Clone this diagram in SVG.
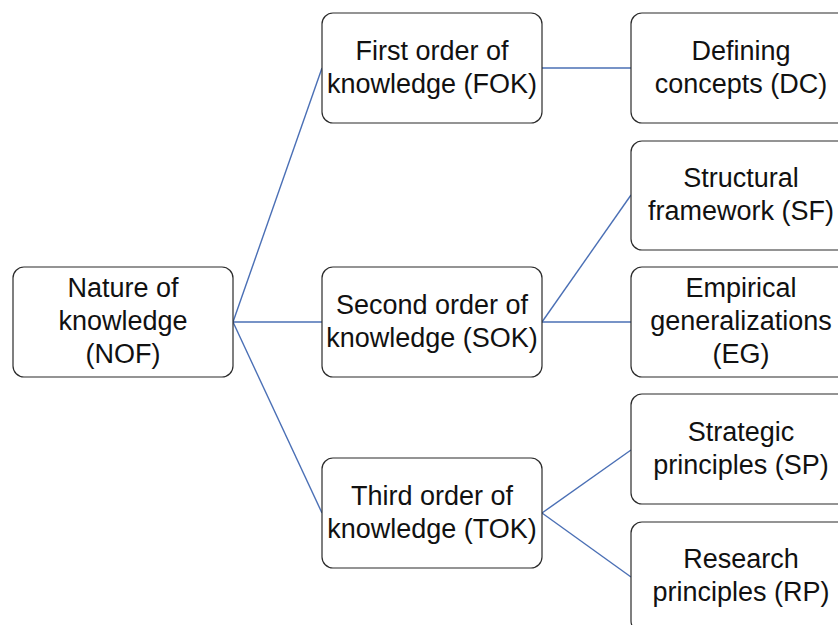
<svg xmlns="http://www.w3.org/2000/svg" width="838" height="625" viewBox="0 0 838 625">
<style>
.box{fill:#fff;stroke:#2b2b2b;stroke-width:1.2}
.lbl{font-family:"Liberation Sans",Arial,sans-serif;font-size:27px;fill:#111;text-anchor:middle}
.con{stroke:#4a6fb5;stroke-width:1.4;fill:none}
</style>
<rect width="838" height="625" fill="#fff"/>
<g id="connectors">
<line class="con" x1="233" y1="322" x2="322" y2="68"/>
<line class="con" x1="233" y1="322" x2="322" y2="322"/>
<line class="con" x1="233" y1="322" x2="322" y2="513"/>
<line class="con" x1="542" y1="68" x2="631" y2="68"/>
<line class="con" x1="542" y1="322" x2="631" y2="195"/>
<line class="con" x1="542" y1="322" x2="631" y2="322"/>
<line class="con" x1="542" y1="513" x2="631" y2="450"/>
<line class="con" x1="542" y1="513" x2="631" y2="577"/>
</g>
<g id="NOF">
<rect class="box" x="13" y="267" width="220" height="110" rx="11"/>
<text class="lbl" x="123" y="297">Nature of</text>
<text class="lbl" x="123" y="330">knowledge</text>
<text class="lbl" x="123" y="363">(NOF)</text>
</g>
<g id="FOK">
<rect class="box" x="322" y="13" width="220" height="110" rx="11"/>
<text class="lbl" x="432" y="60">First order of</text>
<text class="lbl" x="432" y="93">knowledge (FOK)</text>
</g>
<g id="SOK">
<rect class="box" x="322" y="267" width="220" height="110" rx="11"/>
<text class="lbl" x="432" y="314">Second order of</text>
<text class="lbl" x="432" y="347">knowledge (SOK)</text>
</g>
<g id="TOK">
<rect class="box" x="322" y="458" width="220" height="110" rx="11"/>
<text class="lbl" x="432" y="505">Third order of</text>
<text class="lbl" x="432" y="538">knowledge (TOK)</text>
</g>
<g id="DC">
<rect class="box" x="631" y="13" width="220" height="110" rx="11"/>
<text class="lbl" x="741" y="60">Defining</text>
<text class="lbl" x="741" y="93">concepts (DC)</text>
</g>
<g id="SF">
<rect class="box" x="631" y="141" width="220" height="109" rx="11"/>
<text class="lbl" x="741" y="187">Structural</text>
<text class="lbl" x="741" y="220">framework (SF)</text>
</g>
<g id="EG">
<rect class="box" x="631" y="267" width="220" height="110" rx="11"/>
<text class="lbl" x="741" y="297">Empirical</text>
<text class="lbl" x="741" y="330">generalizations</text>
<text class="lbl" x="741" y="363">(EG)</text>
</g>
<g id="SP">
<rect class="box" x="631" y="394" width="220" height="110" rx="11"/>
<text class="lbl" x="741" y="441">Strategic</text>
<text class="lbl" x="741" y="474">principles (SP)</text>
</g>
<g id="RP">
<rect class="box" x="631" y="522" width="220" height="110" rx="11"/>
<text class="lbl" x="741" y="568">Research</text>
<text class="lbl" x="741" y="601">principles (RP)</text>
</g>
</svg>
